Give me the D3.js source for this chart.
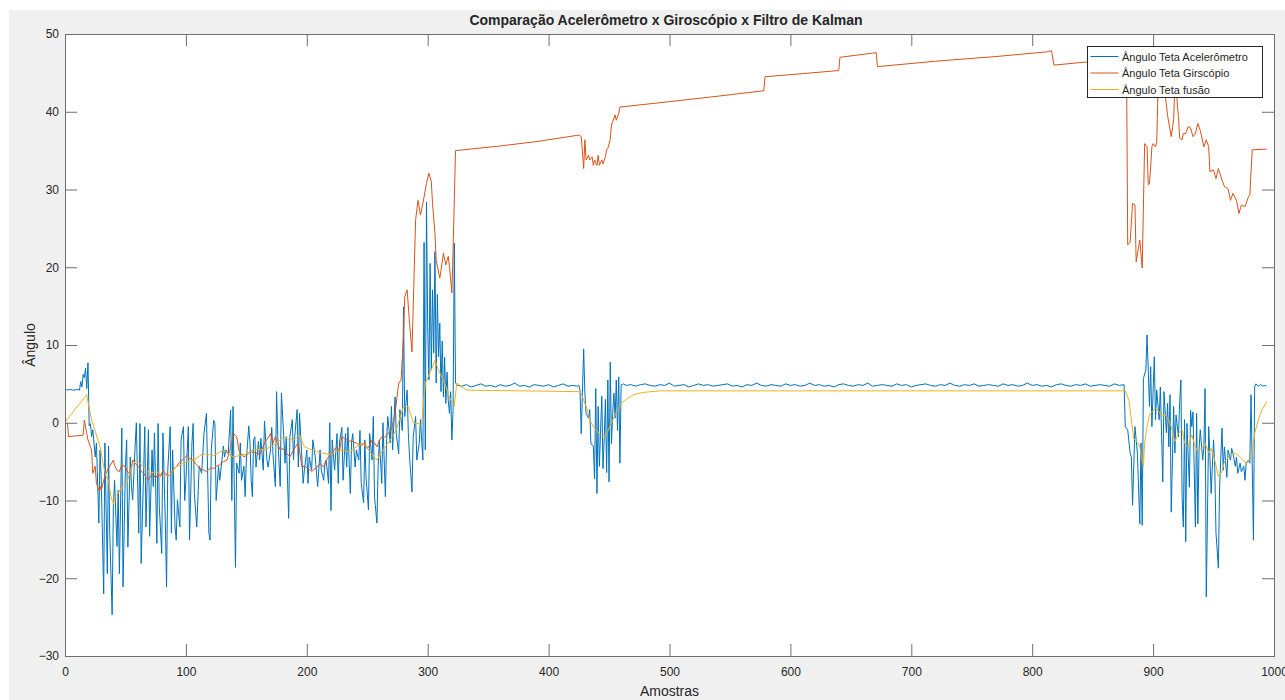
<!DOCTYPE html>
<html>
<head>
<meta charset="utf-8">
<script src="https://cdn.jsdelivr.net/npm/d3@7"></script>
<style>
  body { margin: 0; background: #f0f0f0; }
  text { font-family: "Liberation Sans", Arial, Helvetica, sans-serif; fill: #262626; }
</style>
</head>
<body>
<div id="grafico"></div>
<script>
// Valores: [amostra, ângulo]
const acelInicio = [
  [0,4.3],[2,4.2],[4,4.3],[6,4.2],[8,4.2],[10,4.3],[12,4.2],[13,5.3],[14,4.6],[15,6.2],[16,5.8],[17,7.0],[18,4.4],[19,7.7],
  [20,-0.4],[21,-0.1],[22,-1.8],[23,-0.9],[25,-4.4],[26,-2.6],[28,-12.9],[29,-3.5],[30,-7.4],[32,-22.0],[33,-2.6],[35,-19.4],
  [36,-3.0],[37,-14.2],[39,-24.7],[40,-10.8],[41,-7.4],[43,-15.9],[44,-8.7],[45,-19.4],[47,-0.7],[48,-21.1],[50,-5.6],[51,-2.2],
  [52,-16.0],[54,-4.4],[55,-8.2],[56,-9.9],[58,-3.0],[59,0.0],[61,-14.2],[62,-0.1],[63,-18.1],[65,-6.5],[66,-0.5],[67,-13.4],
  [69,-0.9],[70,-14.6],[72,-3.5],[73,-8.2],[74,-1.3],[76,-15.5],[77,-0.1],[78,-10.8],[80,-16.8],[81,-1.3],[83,-12.9],[84,-21.1],
  [85,-6.1],[87,-0.5],[88,-14.2],[89,-3.5],[91,-13.4],[92,-15.1],[93,-9.9],[95,-13.4],[96,-2.2],[98,-0.5],[99,-10.0],[100,-7.4],
  [102,-0.5],[103,-15.1],[105,-2.6],[106,-0.1],[107,-9.1],[109,-13.4],[110,-9.5],[111,-5.6],[113,-6.5],[115,-1.3],[117,1.2],
  [119,-14.2],[120,-15.1],[121,-3.5],[123,0.3],[124,-0.1],[125,-10.0],[127,-5.6],[128,-7.4],[131,-3.0],[132,-4.4],[133,-3.5],
  [135,-4.0],[137,1.6],[138,-10.0],[139,2.1],[141,-18.6],[142,-5.2],[144,-6.5],[145,-2.6],[146,-7.4],[148,-5.6],[149,-9.5],
  [150,-4.8],[152,-0.4],[153,-2.6],[154,-7.4],[155,-9.5],[156,-2.2],[157,-1.8],[158,-5.7],[160,-2.4],[161,-4.8],[162,-2.0],
  [164,-6.1],[165,0.2],[167,-4.8],[168,-5.7],[170,-3.5],[171,-0.6],[172,-3.9],[174,-8.2],[175,4.0],[176,-1.8],[178,-8.2],
  [179,3.8],[181,-2.0],[182,-5.2],[183,-1.8],[185,-12.3],[186,-1.8],[188,0.4],[189,-4.8],[190,-1.8],[192,1.7],[193,-5.7],
  [194,1.2],[196,-4.8],[197,-7.8],[198,-6.1],[200,-3.5],[201,-7.8],[202,-4.4],[204,-6.1],[205,-2.2],[207,-4.4],[208,-6.5],
  [209,-8.2],[211,-3.5],[212,-6.1],[214,-7.4],[215,-5.2],[216,-4.8],[218,-7.8],[219,0.0],[220,-11.3],[221,-2.2],[223,-6.1],
  [225,-1.4],[226,-7.8],[227,-2.6],[229,-0.6],[230,-7.4],[232,-1.4],[233,-5.7],[234,-0.6],[236,-9.1],[237,-2.6],[238,-1.4],
  [240,-5.7],[241,-3.5],[243,-4.8],[244,-1.0],[245,-7.8],[247,-10.3],[248,-2.2],[249,-7.0],[251,-11.2],[252,-1.4],[254,-4.8],
  [255,0.8],[256,-9.5],[258,-12.9],[259,-5.7],[260,-2.2],[262,-7.8],[263,0.0],[265,-9.5],[266,-2.2],[267,0.8],[269,-2.6],
  [270,2.1],[271,-3.5],[273,3.3],[274,-1.4],[276,-4.0],[277,1.7],[279,-1.0],[280,14.9],[281,0.8],[283,4.2],[284,-1.4],
  [285,-4.4],[287,-8.9],[288,-1.8],[290,0.8],[291,-4.8],[293,-2.6],[294,0.4],[296,-4.8],[297,23.2],[298,-3.5],[299,28.4],
  [300,12.3],[301,5.5],[302,20.5],[303,6.8],[304,17.1],[305,9.0],[306,22.0],[307,5.1],[308,16.5],[309,8.5],[310,12.8],
  [311,4.0],[312,10.5],[313,3.3],[314,8.4],[315,2.5],[316,6.5],[317,2.9],[318,1.2],[319,4.0],[320,-2.2],[321,1.6],[322,23.1],
  [323,5.1],[325,4.8]
];
// trecho estável 328..424, a cada 4 amostras
const acelPlano1 = [4.7,4.9,4.6,4.8,5.0,4.7,4.8,4.6,4.9,4.7,4.8,5.1,4.7,4.8,4.6,4.9,4.8,4.7,4.9,4.6,4.8,5.0,4.7,4.8,4.7];
const acelQueda = [
  [425,4.8],[426,4.2],[427,-1.4],[429,9.5],[430,3.8],[431,1.2],[433,0.6],[434,1.7],[435,-2.7],[437,-3.0],[438,-7.2],[439,4.4],
  [440,-9.1],[441,2.1],[442,-5.6],[444,3.4],[445,-5.9],[446,-2.0],[447,3.0],[448,-6.4],[449,5.5],[450,-7.6],[451,7.8],
  [452,-2.7],[453,1.2],[454,3.8],[455,0.6],[456,5.5],[457,-1.0],[458,5.9],[459,-5.2],[460,4.85],[462,5.0]
];
// trecho estável 464..876, a cada 4 amostras
const acelPlano2 = [
  4.8,4.9,4.7,4.9,5.0,4.8,4.7,4.9,4.8,5.1,4.7,4.8,4.9,4.6,4.8,5.0,4.8,4.9,4.7,4.8,4.9,5.0,4.7,4.8,4.6,4.9,
  4.8,5.1,4.8,4.7,4.9,4.8,4.7,5.0,4.8,4.9,4.7,4.8,5.1,4.8,4.9,4.7,4.8,4.6,4.9,5.0,4.8,4.7,4.9,4.8,5.1,4.7,
  4.8,4.9,4.8,4.7,5.0,4.8,4.9,4.6,4.8,4.9,5.0,4.8,4.7,4.9,4.8,5.1,4.8,4.7,4.9,4.8,5.0,4.7,4.8,4.9,4.8,4.7,
  5.0,4.8,4.9,4.7,4.8,5.1,4.8,4.9,4.7,4.8,4.6,4.9,5.0,4.8,4.7,4.9,4.8,5.0,4.7,4.8,4.9,4.8,4.7,5.0,4.8,4.9
];
const acelFim = [
  [877,-0.5],[879,-0.9],[881,-3.9],[882,-4.4],[883,-10.6],[885,-0.5],[887,-3.9],[889,-13.0],[890,-2.6],[891,-13.2],
  [892,5.7],[894,6.8],[895,11.3],[897,2.1],[898,7.2],[899,-0.5],[901,8.5],[902,0.4],[903,4.2],[905,0.4],[906,4.6],
  [908,-7.6],[909,4.0],[911,-1.3],[912,2.5],[913,-3.1],[914,3.6],[915,-11.5],[917,2.1],[918,-3.9],[919,1.0],[921,-1.8],
  [922,2.7],[923,5.5],[924,-9.6],[925,-13.4],[926,0.4],[927,-15.3],[928,-0.1],[930,-8.3],[931,1.6],[932,-0.5],[933,1.4],
  [935,-13.4],[936,1.2],[937,-13.0],[938,-3.5],[939,-0.9],[941,-4.8],[942,-3.1],[943,4.4],[944,-22.4],[946,-0.5],
  [947,-4.4],[948,-9.1],[950,-2.2],[951,-5.6],[952,-14.1],[954,-18.7],[955,-8.3],[957,-0.7],[958,-6.1],[959,-3.1],
  [961,-7.0],[962,-3.5],[964,-4.8],[965,-3.3],[966,-3.9],[968,-5.6],[969,-4.4],[970,-6.5],[972,-5.2],[973,-6.3],
  [975,-5.6],[976,-7.4],[977,-5.2],[979,-4.8],[980,-5.2],[981,3.6],[982,-5.6],[983,-15.1],[984,4.6],[985,5.0],
  [987,4.7],[989,4.9],[991,4.7],[993,4.8],[994,4.7]
];

const giroscopio = [
  [0,-0.1],[2,-0.1],[3,-1.8],[8,-1.7],[15,-1.6],[16,0.35],[18,-1.4],[19,-2.2],[21,-3.1],[22,-3.5],[23,-6.5],[25,-5.6],
  [26,-7.8],[28,-8.7],[29,-8.2],[30,-8.7],[32,-7.4],[34,-6.5],[36,-5.8],[37,-5.6],[40,-4.8],[41,-5.5],[43,-6.1],[45,-6.3],
  [47,-5.4],[50,-5.7],[52,-6.4],[54,-6.5],[56,-4.8],[58,-5.2],[61,-5.7],[63,-6.2],[65,-6.5],[67,-7.0],[69,-7.4],[71,-6.8],
  [73,-6.7],[75,-7.1],[77,-6.6],[79,-6.9],[81,-6.1],[83,-6.5],[85,-6.9],[87,-6.6],[90,-5.9],[92,-5.7],[94,-5.2],[97,-4.8],
  [99,-4.5],[101,-4.2],[103,-4.6],[106,-4.8],[108,-5.3],[110,-5.6],[112,-5.9],[115,-6.1],[117,-6.3],[119,-6.0],[121,-5.8],
  [123,-5.9],[125,-5.6],[128,-5.4],[131,-5.0],[134,-4.8],[136,-3.7],[138,-2.5],[139,-1.4],[141,-1.6],[142,-1.8],[144,-3.7],
  [146,-4.0],[148,-4.4],[150,-4.2],[153,-3.7],[156,-3.8],[158,-3.9],[161,-4.1],[163,-3.4],[165,-2.6],[168,-1.9],[170,-1.4],
  [172,-2.6],[174,-1.8],[176,-2.7],[178,-3.5],[180,-3.3],[182,-3.7],[184,-4.0],[186,-4.4],[189,-3.5],[191,-3.0],[193,-2.6],
  [196,-5.7],[198,-5.6],[200,-5.8],[202,-6.0],[204,-6.3],[206,-6.0],[208,-5.8],[211,-5.2],[214,-5.7],[217,-4.6],[220,-4.0],
  [222,-3.6],[225,-3.1],[227,-3.7],[229,-1.8],[231,-2.0],[233,-2.2],[235,-2.4],[237,-2.3],[239,-2.5],[241,-2.6],[243,-2.8],
  [245,-2.9],[248,-2.6],[250,-3.3],[252,-2.9],[254,-2.2],[256,-2.6],[258,-3.1],[260,-2.3],[262,-1.8],[264,-1.9],[266,-1.6],
  [268,-1.2],[270,-0.9],[273,1.2],[276,5.1],[278,5.5],[280,11.1],[281,16.2],[283,17.1],[285,12.8],[287,9.1],[290,26.1],
  [292,28.6],[294,26.7],[296,28.2],[299,30.8],[301,32.1],[303,31.0],[304,28.2],[306,24.4],[307,20.9],[310,18.6],[311,19.6],
  [313,21.8],[315,20.3],[317,21.4],[318,20.1],[320,16.7],[321,22.2],[323,35.0],[360,35.6],[392,36.2],[425,37.0],[427,36.8],
  [429,32.7],[430,36.4],[431,33.8],[433,34.4],[434,33.8],[436,34.2],[437,33.1],[438,33.8],[440,33.1],[441,34.4],[442,33.1],
  [444,33.8],[445,33.3],[447,34.2],[448,35.1],[449,35.3],[451,36.4],[452,38.3],[453,38.7],[455,39.6],[456,38.9],[458,39.8],
  [459,40.6],[500,41.3],[540,42.0],[578,42.7],[579,44.5],[610,44.9],[640,45.3],[641,47.0],[671,47.6],[672,45.8],[720,46.5],
  [770,47.1],[812,47.7],[816,47.85],[818,46.0],[845,46.4],[862,46.7],[878,47.0],[879,22.9],[881,23.2],[883,28.2],[885,28.0],
  [886,20.7],[889,23.5],[891,19.9],[893,35.9],[895,35.5],[896,30.6],[897,30.8],[898,32.9],[899,35.5],[900,35.9],[902,35.5],
  [903,36.1],[904,42.4],[905,45.0],[907,46.0],[909,44.0],[910,42.2],[912,39.5],[915,36.8],[917,39.0],[918,43.5],[919,44.0],
  [920,41.0],[921,39.4],[922,36.6],[924,36.4],[925,37.2],[927,37.2],[929,38.1],[931,37.9],[933,36.8],[935,37.2],[937,38.5],
  [939,37.6],[942,35.5],[944,36.4],[946,35.5],[947,32.3],[950,32.5],[952,31.4],[954,32.7],[957,31.2],[959,30.4],[962,30.1],
  [964,28.6],[966,29.5],[969,28.6],[971,26.9],[973,28.0],[976,27.8],[979,29.1],[980,29.3],[982,35.1],[994,35.2]
];

const fusao = [
  [0,0.1],[18,3.6],[19,2.7],[22,0.35],[25,-1.1],[29,-3.1],[32,-5.65],[34,-6.9],[36,-7.4],[38,-9.5],[40,-10.4],[41,-9.5],
  [44,-9.1],[47,-8.2],[51,-7.8],[55,-5.65],[59,-4.8],[65,-5.65],[70,-6.5],[76,-6.3],[81,-6.9],[87,-6.7],[92,-5.65],[98,-5.2],
  [106,-4.8],[114,-4.0],[123,-4.2],[131,-3.5],[139,-4.4],[145,-4.2],[150,-4.0],[156,-3.5],[161,-3.4],[165,-3.5],[170,-3.1],
  [176,-2.5],[181,-1.8],[185,-2.2],[189,-2.2],[194,-1.6],[198,-3.1],[203,-3.4],[208,-3.7],[213,-3.9],[219,-4.1],[223,-3.8],
  [227,-3.5],[231,-3.6],[236,-3.7],[241,-3.1],[247,-2.6],[252,-3.7],[258,-4.8],[263,-3.5],[269,-2.2],[274,-0.9],[280,2.1],
  [284,2.1],[288,0.0],[295,-0.2],[298,5.1],[303,6.8],[306,8.0],[310,6.4],[314,5.1],[318,3.3],[322,2.1],[324,5.1],[332,4.2],
  [425,4.0],[427,3.8],[429,2.9],[432,1.7],[434,0.4],[437,-0.5],[440,-1.1],[443,-1.6],[447,-1.8],[449,-1.1],[452,0.0],
  [455,1.0],[458,1.9],[460,2.5],[465,3.1],[470,3.6],[478,3.9],[492,4.1],[877,4.1],[880,2.9],[882,0.35],[884,-2.1],
  [886,-2.3],[889,-3.1],[891,-4.8],[892,-5.6],[893,-2.65],[895,-0.5],[897,1.0],[899,1.4],[902,1.86],[904,1.64],[907,0.86],
  [910,1.0],[913,0.35],[915,-0.5],[918,-2.43],[921,-1.36],[924,-0.93],[926,-2.65],[929,-3.1],[932,-1.57],[935,-3.1],
  [937,-3.7],[940,-3.3],[943,-2.65],[946,-3.9],[948,-3.3],[951,-4.8],[954,-6.9],[957,-6.3],[959,-5.0],[964,-4.15],
  [968,-3.9],[972,-4.4],[977,-5.2],[980,-4.8],[982,-3.9],[984,-1.36],[987,0.35],[990,1.64],[994,2.7]
];

const ticksX = [0, 100, 200, 300, 400, 500, 600, 700, 800, 900, 1000];
const ticksY = [-30, -20, -10, 0, 10, 20, 30, 40, 50];
const legendas = ["Ângulo Teta Acelerômetro", "Ângulo Teta Girscópio", "Ângulo Teta fusão"];
const cores = ["#0072BD", "#D95319", "#EDB120"];

// trechos estáveis: valores lidos a cada 4 amostras
const trecho = (inicio, valores) => valores.map((v, k) => [inicio + k * 4, v]);
const acelerometro = [
  ...acelInicio,
  ...trecho(328, acelPlano1),
  ...acelQueda,
  ...trecho(464, acelPlano2),
  ...acelFim,
];
const series = [acelerometro, giroscopio, fusao];

const width = 1285;
const height = 700;
const margin = { top: 34, right: 11, bottom: 44, left: 65 };

const svg = d3
  .select("#grafico")
  .append("svg")
  .attr("width", width)
  .attr("height", height);

// fundo da figura
svg.append("rect").attr("width", width).attr("height", height).attr("fill", "#f0f0f0");
svg.append("rect").attr("width", width).attr("height", 10).attr("fill", "#ffffff");
svg.append("rect").attr("width", 9).attr("height", height).attr("fill", "#ffffff");

const x = d3
  .scaleLinear()
  .domain([0, 1000])
  .range([margin.left, width - margin.right]);

const y = d3
  .scaleLinear()
  .domain([-30, 50])
  .range([height - margin.bottom, margin.top]);

svg
  .append("rect")
  .attr("x", x(0))
  .attr("y", y(50))
  .attr("width", x(1000) - x(0))
  .attr("height", y(-30) - y(50))
  .attr("fill", "#ffffff");

svg
  .append("clipPath")
  .attr("id", "area")
  .append("rect")
  .attr("x", x(0))
  .attr("y", y(50))
  .attr("width", x(1000) - x(0))
  .attr("height", y(-30) - y(50));

const linha = d3
  .line()
  .x((d) => x(d[0]))
  .y((d) => y(d[1]));

svg
  .append("g")
  .attr("clip-path", "url(#area)")
  .selectAll("path")
  .data(series)
  .join("path")
  .attr("d", linha)
  .attr("fill", "none")
  .attr("stroke", (d, i) => cores[i])
  .attr("stroke-width", 1)
  .attr("stroke-linejoin", "round");

// Eixos (ticks para dentro, como no MATLAB)
const corEixo = "#6e6e6e";
function estilo(g) {
  g.select(".domain").remove();
  g.selectAll(".tick line").attr("stroke", corEixo);
  g.selectAll("text")
    .style("font-size", "12px")
    .style("font-family", '"Liberation Sans", Arial, sans-serif')
    .attr("fill", "#262626");
}

svg
  .append("g")
  .attr("transform", `translate(0,${y(-30)})`)
  .call(d3.axisBottom(x).tickValues(ticksX).tickFormat(d3.format("d")).tickSizeInner(-12).tickSizeOuter(0).tickPadding(11))
  .call(estilo);

svg
  .append("g")
  .attr("transform", `translate(0,${y(50)})`)
  .call(d3.axisTop(x).tickValues(ticksX).tickSizeInner(-12).tickSizeOuter(0).tickFormat(""))
  .call(estilo);

svg
  .append("g")
  .attr("transform", `translate(${x(0)},0)`)
  .call(d3.axisLeft(y).tickValues(ticksY).tickSizeInner(-12).tickSizeOuter(0).tickPadding(6))
  .call(estilo);

svg
  .append("g")
  .attr("transform", `translate(${x(1000)},0)`)
  .call(d3.axisRight(y).tickValues(ticksY).tickSizeInner(-12).tickSizeOuter(0).tickFormat(""))
  .call(estilo);

// moldura
svg
  .append("rect")
  .attr("x", x(0) + 0.5)
  .attr("y", y(50) + 0.5)
  .attr("width", x(1000) - x(0))
  .attr("height", y(-30) - y(50))
  .attr("fill", "none")
  .attr("stroke", corEixo)
  .attr("stroke-width", 1);

// Título e rótulos
svg
  .append("text")
  .attr("x", 666)
  .attr("y", 25)
  .attr("text-anchor", "middle")
  .style("font-size", "14px")
  .style("font-weight", "bold")
  .text("Comparação Acelerômetro x Giroscópio x Filtro de Kalman");

svg
  .append("text")
  .attr("x", (x(0) + x(1000)) / 2)
  .attr("y", 696)
  .attr("text-anchor", "middle")
  .style("font-size", "14px")
  .text("Amostras");

svg
  .append("text")
  .attr("transform", `translate(35,${(y(50) + y(-30)) / 2}) rotate(-90)`)
  .attr("text-anchor", "middle")
  .style("font-size", "14px")
  .text("Ângulo");

// Legenda
const legend = svg.append("g").attr("transform", "translate(1087.5,46.5)");
legend
  .append("rect")
  .attr("width", 175)
  .attr("height", 51)
  .attr("fill", "#ffffff")
  .attr("stroke", "#262626")
  .attr("stroke-width", 1);

legendas.forEach((nome, i) => {
  const g = legend.append("g").attr("transform", `translate(0, ${10 + i * 16.5})`);
  g.append("line")
    .attr("x1", 3)
    .attr("x2", 31)
    .attr("stroke", cores[i])
    .attr("stroke-width", 1);
  g.append("text")
    .attr("x", 34.5)
    .attr("y", 4)
    .style("font-size", "11px")
    .text(nome);
});
</script>
</body>
</html>
